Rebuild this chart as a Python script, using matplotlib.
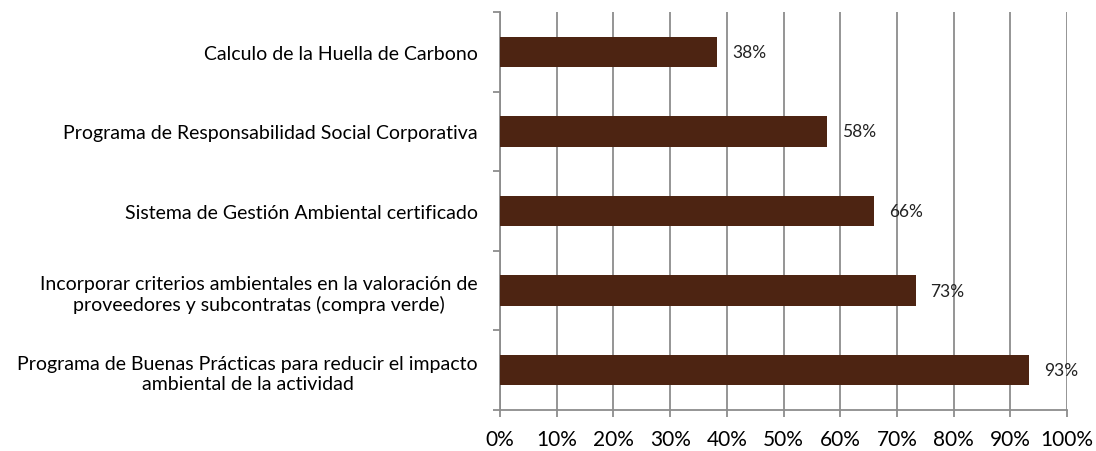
import matplotlib.pyplot as plt
import numpy as np

plt.rcParams['font.family'] = ['Lato', 'DejaVu Sans']

categories = [
    'Programa de Buenas Prácticas para reducir el impacto\nambiental de la actividad',
    'Incorporar criterios ambientales en la valoración de\nproveedores y subcontratas (compra verde)',
    'Sistema de Gestión Ambiental certificado',
    'Programa de Responsabilidad Social Corporativa',
    'Calculo de la Huella de Carbono',
]
values = [93.3, 73.3, 66.0, 57.7, 38.3]
labels = ['93%', '73%', '66%', '58%', '38%']

fig = plt.figure(figsize=(10.96, 4.52), dpi=100)
ax = fig.add_axes([500 / 1096, 1 - 411 / 452, 567 / 1096, 398 / 452])

y = np.arange(len(categories))
ax.barh(y, values, height=0.38, color='#4D2412', zorder=3)
for yi, v, lab in zip(y, values, labels):
    ax.text(v + 2.6, yi, lab, va='center', ha='left', fontsize=12.5, color='#222222', zorder=4)

ax.set_xlim(0, 100)
ax.set_ylim(-0.5, len(categories) - 0.5)
ax.set_xticks(np.arange(0, 101, 10))
ax.set_xticklabels([f'{t}%' for t in range(0, 101, 10)], fontsize=15)
ax.xaxis.grid(True, color='#8C8C8C', linewidth=1.3, zorder=0)

ax.set_yticks(y)
ax.set_yticklabels(categories, fontsize=14, multialignment='center', linespacing=1.25)
ax.set_yticks(np.arange(-0.5, len(categories), 1), minor=True)
ax.tick_params(axis='y', which='major', length=0, pad=16)
ax.tick_params(axis='y', which='minor', length=5, color='#8C8C8C', width=1.3)
ax.tick_params(axis='x', length=5, color='#8C8C8C', width=1.3, pad=9)

for s in ['top', 'right']:
    ax.spines[s].set_visible(False)
for s in ['left', 'bottom']:
    ax.spines[s].set_color('#8C8C8C')
    ax.spines[s].set_linewidth(1.3)

fig.savefig('out.png', dpi=100)
